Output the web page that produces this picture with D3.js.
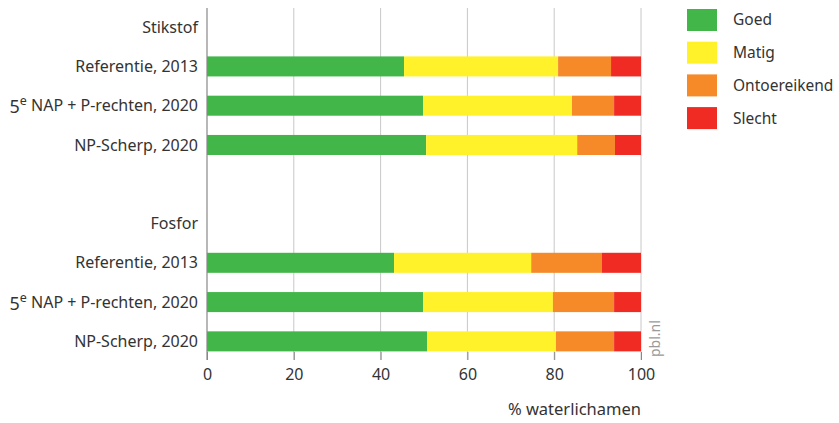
<!DOCTYPE html>
<html><head><meta charset="utf-8">
<script src="https://cdn.jsdelivr.net/npm/d3@7"></script>
<style>
body{margin:0;background:#fff;}
text{font-family:"Noto Sans",sans-serif;fill:#333;}
</style></head>
<body><svg id="c" width="839" height="423"></svg>
<script>
const rows = ["Stikstof","s_ref","s_nap","s_np","gap","Fosfor","f_ref","f_nap","f_np"];
const rowLabels = {"Stikstof":"Stikstof","s_ref":"Referentie, 2013","s_nap":"NAP","s_np":"NP-Scherp, 2020","gap":"","Fosfor":"Fosfor","f_ref":"Referentie, 2013","f_nap":"NAP","f_np":"NP-Scherp, 2020"};
const barRows = ["s_ref","s_nap","s_np","f_ref","f_nap","f_np"];
const series = ["Goed","Matig","Ontoereikend","Slecht"];
const goed = [45.4, 49.8, 50.5, 43.1, 49.8, 50.7];
const matig = [35.5, 34.3, 34.8, 31.6, 29.9, 29.7];
const ontoereikend = [12.2, 9.7, 8.7, 16.3, 14.1, 13.4];
const slecht = [6.9, 6.2, 6.0, 9.0, 6.2, 6.2];
const colors = ["#43b649","#fff22a","#f68a29","#ef2b24"];
const xTicks = [0,20,40,60,80,100];

const svg = d3.select("#c");
const x = d3.scaleLinear().domain([0,100]).range([207,641]);
const y = d3.scaleBand().domain(rows).range([7.5,361]).paddingInner(0.49).paddingOuter(0.245);

// grid
svg.append("g").selectAll("line").data(xTicks.slice(1)).join("line")
  .attr("x1",d=>x(d)).attr("x2",d=>x(d)).attr("y1",8).attr("y2",360)
  .attr("stroke","#c8c8c8").attr("stroke-width",1);

const table = barRows.map((r,i)=>({row:r,Goed:goed[i],Matig:matig[i],Ontoereikend:ontoereikend[i],Slecht:slecht[i]}));
const stack = d3.stack().keys(series)(table);
svg.append("g").selectAll("g").data(stack).join("g")
  .attr("fill",(d,i)=>colors[i])
  .selectAll("rect").data(d=>d).join("rect")
  .attr("x",d=>x(d[0])).attr("width",d=>x(d[1])-x(d[0]))
  .attr("y",d=>y(d.data.row)).attr("height",y.bandwidth());

// axis line
svg.append("line").attr("x1",x(0)).attr("x2",x(0)).attr("y1",8).attr("y2",360)
  .attr("stroke","#888").attr("stroke-width",1.2);

// x axis
const xAxis = d3.axisBottom(x).tickValues(xTicks).tickSize(8).tickPadding(9).tickFormat(d=>d);
const gx = svg.append("g").attr("transform","translate(0,352)").call(xAxis);
gx.select(".domain").remove();
gx.selectAll(".tick line").attr("stroke","#888");
gx.selectAll(".tick text").attr("font-size",16).attr("font-family","Noto Sans").attr("fill","#333");

// row labels
const lab = svg.append("g").selectAll("text").data(rows.filter(r=>r!=="gap")).join("text")
  .attr("x",198).attr("y",d=>y(d)+y.bandwidth()/2 + 5.6)
  .attr("text-anchor","end").attr("font-size",16);
lab.each(function(d){
  const t = d3.select(this);
  if(rowLabels[d]==="NAP"){
    t.append("tspan").attr("font-size",18).attr("dy",2).text("5");
    t.append("tspan").attr("dy",-8).attr("font-size",12.5).text("e");
    t.append("tspan").attr("dy",6).text(" NAP + P-rechten, 2020");
  } else t.text(rowLabels[d]);
});

// x title
svg.append("text").attr("x",641).attr("y",415).attr("text-anchor","end").attr("font-size",16.5).text("% waterlichamen");

// pbl.nl
svg.append("text").attr("transform","translate(660,357) rotate(-90)").attr("font-size",14).style("fill","#999").text("pbl.nl");

// legend
const lg = svg.append("g").selectAll("g").data(series).join("g")
  .attr("transform",(d,i)=>`translate(687,${9+i*32.7})`);
lg.append("rect").attr("width",30).attr("height",22).attr("fill",(d,i)=>colors[i]);
lg.append("text").attr("x",46).attr("y",11).attr("dy","0.35em").attr("font-size",15.5).text(d=>d);
</script></body></html>
